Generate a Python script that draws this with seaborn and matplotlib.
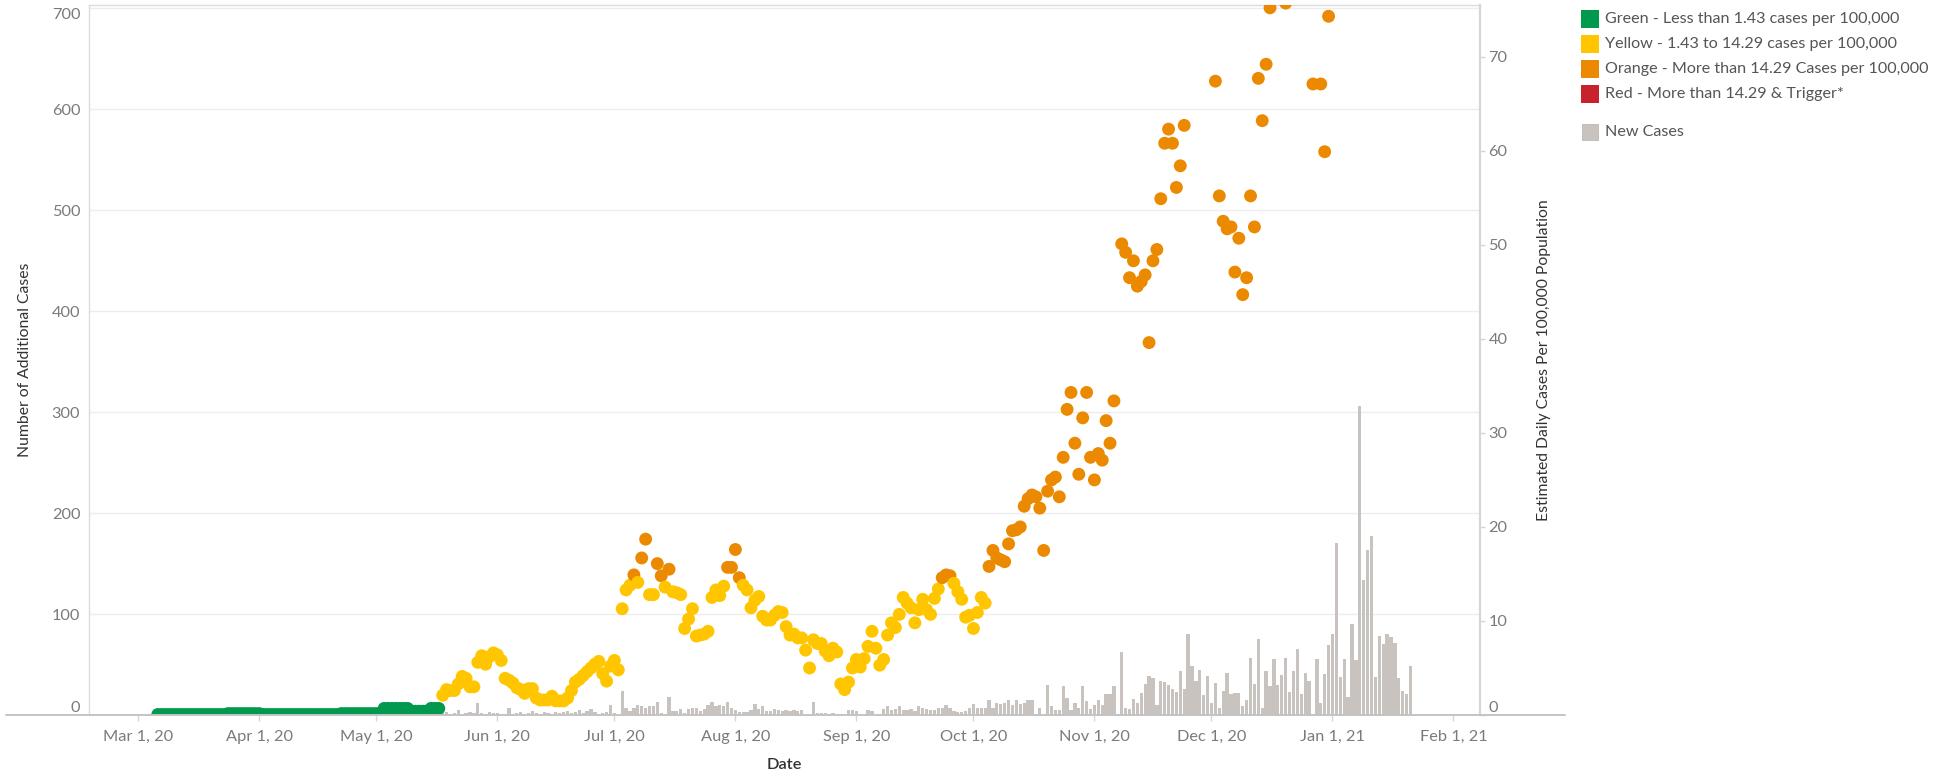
import numpy as np
import pandas as pd
import matplotlib
matplotlib.use("Agg")
import matplotlib.pyplot as plt
import seaborn as sns
from matplotlib.patches import Rectangle
from matplotlib.lines import Line2D

# ---------------- data ----------------
nan = np.nan
dot_start = "2020-03-06"
dot_values = (
    [0.05] * 18 + [0.15] * 9 + [0.05] * 20 + [0.15] * 11 + [0.7] * 7 + [0.4] * 5 + [0.7] * 3 +
    [2.1, 2.7, 2.6, 2.6, 3.3, 4.1, 3.9, 3.0, 3.0, 5.6,
     6.3, 5.4, 6.2, 6.6, 6.4, 5.8, 3.9, 3.7, 3.4, 2.9,
     2.7, 2.3, 2.8, 2.8, 1.8, 1.6, 1.6, 1.6, 2.0, 1.5,
     1.5, 1.5, 1.8, 2.6, 3.5, 3.8, 4.2, 4.6, 5.0, 5.4,
     5.7, 4.4, 3.6, 5.2, 5.8, 4.8, 11.3, 13.3, 13.8, 14.9,
     14.1, 16.7, 18.7, 12.8, 12.8, 16.1, 14.8, 13.6, 15.5, 13.1,
     13.0, 12.8, 9.2, 10.2, 11.3, 8.4, 8.5, 8.6, 8.9, 12.5,
     13.3, 12.7, 13.7, 15.7, 15.7, 17.6, 14.6, 13.8, 13.3, 11.4,
     12.2, 12.6, 10.5, 10.1, 10.1, 10.6, 11.0, 10.9, 9.4, 8.5,
     8.6, 8.2] +
    [8.2, 6.9, 5.0, 8.0, 7.6, 7.6, 6.8, 6.3, 7.1, 6.7,
     3.3, 2.7, 3.5, 5.0, 5.9, 5.1, 6.0, 7.3, 8.9, 7.1,
     5.3, 5.9, 8.5, 9.8, 9.3, 10.7, 12.5, 11.9, 11.4, 9.8,
     11.2, 12.3, 11.2, 10.7, 12.4, 13.4, 14.6, 14.9, 14.8, 14.0,
     13.1, 12.3, 10.4, 10.6, 9.2, 10.9, 12.5, 11.9, 15.8, 17.5,
     16.7, 16.5, 16.3, 18.2, 19.6, 19.7, 20.0, 22.2, 23.0, 23.4,
     23.2, 22.0, 17.5, 23.8, 25.0, 25.3, 23.2, 27.4, 32.5, 34.3,
     28.9, 25.6, 31.6, 34.3, 27.4, 25.0, 27.8, 27.1, 31.3, 28.9,
     33.4, nan, 50.1, 49.2, 46.5, 48.3, 45.6, 46.1, 46.8, 39.6,
     48.3, 49.5, 54.9, 60.8, 62.3, 60.8, 56.1, 58.4, 62.7, nan,
     nan, nan, nan, nan, nan, nan, 67.4, 55.2, 52.5, 51.7,
     51.9, 47.1, 50.7, 44.7, 46.5, 55.2, 51.9, 67.7, 63.2, 69.2,
     75.2, nan, nan, nan, 75.7, nan, nan, nan, nan, nan,
     nan, 67.1, nan, 67.1, 59.9, 74.3]
)

bar_start = "2020-03-06"
bar_values = [
    0, 0, 1, 0, 0, 1, 0, 1, 0, 0, 1, 0, 1, 1, 0, 2, 1, 0, 1, 1,
    2, 1, 0, 1, 2, 1, 1, 0, 2, 1, 1, 2, 0, 1, 1, 2, 1, 0, 1, 2,
    1, 1, 2, 0, 1, 2, 1, 1, 2, 1, 0, 2, 1, 1, 2, 1,
    2, 1, 3, 2, 1, 2, 3, 1, 2, 4, 2, 1, 3, 2, 2, 1, 3,
    2, 3, 1, 2, 5, 1, 2, 3, 2, 12, 2, 1, 3, 2, 2, 1, 1, 7, 1, 2,
    3, 1, 2, 4, 2, 1, 3, 2, 1, 3, 2, 3, 4, 2, 3, 5, 2, 4, 6, 3,
    1, 2, 3,
    10, 2, 0, 24, 7, 4, 7, 10, 9, 7,
    9, 9, 13, 2, 0, 18, 4, 4, 6, 2,
    6, 7, 7, 4, 6, 10, 13, 9, 10, 9,
    13, 7, 5, 3, 3, 3, 5, 11, 6, 9,
    4, 4, 6, 5, 4, 5, 4, 5, 4, 5,
    0, 0, 13, 2, 2, 2, 1, 2, 0, 0,
    0, 5, 5, 4, 0, 0, 5, 4, 0, 0,
    6, 9, 5, 6, 9, 5, 5, 6, 4, 9,
    7, 6, 5, 5, 7, 7, 10, 7, 4, 3,
    3, 4, 7, 11, 7, 7, 7, 15, 7, 12,
    11, 12, 15, 10, 15, 11, 12, 15, 15, 0,
    7, 0, 30, 9, 5,
    5, 29, 17, 5, 12, 7, 29, 14, 6, 10,
    15, 10, 21, 21, 29, 0, 62, 7, 6, 16,
    12, 22, 31, 39, 37, 10, 34, 33, 30, 26,
    23, 44, 26, 80, 49, 34, 45, 20, 39, 12,
    32, 7, 24, 42, 21, 22, 22, 9, 15, 56,
    31, 75, 7, 44, 29, 55, 30, 40, 56, 23,
    44, 65, 21, 42, 34, 0, 55, 12, 41, 69,
    80, 170, 38, 55, 18, 90, 54, 306, 134, 163,
    177, 38, 78, 70, 80, 77, 71, 37, 24, 21,
    49,
]

category_names = ["Green", "Yellow", "Orange", "Red"]
category_labels = [
    "Green - Less than 1.43 cases per 100,000",
    "Yellow - 1.43 to 14.29 cases per 100,000",
    "Orange - More than 14.29 Cases per 100,000",
    "Red - More than 14.29 & Trigger*",
]
category_colors = ["#00994d", "#ffc600", "#eb8a00", "#c8232d"]
thresholds = [1.43, 14.29]
bar_label = "New Cases"
bar_color = "#c9c3c0"

left_ticks = [0, 100, 200, 300, 400, 500, 600, 700]
right_ticks = [0, 10, 20, 30, 40, 50, 60, 70]
x_tick_dates = pd.date_range("2020-03-01", "2021-02-01", freq="MS")

# ---------------- frames ----------------
dots = pd.DataFrame({
    "date": pd.date_range(dot_start, periods=len(dot_values), freq="D"),
    "value": dot_values,
}).dropna()
dots["category"] = pd.cut(dots["value"], [-np.inf] + thresholds + [np.inf],
                          labels=category_names[:3]).astype(str)
bars = pd.DataFrame({
    "date": pd.date_range(bar_start, periods=len(bar_values), freq="D"),
    "cases": bar_values,
})

# ---------------- style ----------------
sns.set_theme(style="white")
plt.rcParams["font.family"] = ["Lato", "DejaVu Sans"]
TICK_C = "#7b7b7b"
TITLE_C = "#333333"
FS = 11.8
LEG_FS = 11.6

W, H = 1944, 776
fig = plt.figure(figsize=(W / 100, H / 100), dpi=100)
x0, x1, ybase, ytop = 89.3, 1480, 715, 5
ax = fig.add_axes([x0 / W, 1 - ybase / H, (x1 - x0) / W, (ybase - ytop) / H])

# bars (left axis)
ax.bar(bars["date"], bars["cases"], width=0.84, color=bar_color, linewidth=0, zorder=2)
ax.set_ylim(0, 703)
mar1 = pd.Timestamp("2020-03-01")
ax.set_xlim(mar1 - pd.Timedelta(days=12.55), mar1 + pd.Timedelta(days=343.8))
ax.set_yticks(left_ticks)
ax.set_yticklabels([str(t) for t in left_ticks])
ax.yaxis.grid(True, color="#ededed", linewidth=1.0)
ax.xaxis.grid(False)
ax.set_axisbelow(True)
ax.tick_params(axis="y", length=0, pad=6.5, labelsize=FS, labelcolor=TICK_C)
for lab, t in zip(ax.get_yticklabels(), left_ticks):
    if t == 0:
        lab.set_va("bottom")
    elif t == 700:
        lab.set_va("top")

ax.set_xticks(x_tick_dates)
ax.set_xticklabels([d.strftime("%b ") + str(d.day) + d.strftime(", %y") for d in x_tick_dates])
ax.tick_params(axis="x", length=4.5, width=1, color="#d6d6d6", pad=6,
               labelsize=FS, labelcolor=TICK_C, bottom=True)

for s in ["left", "top"]:
    ax.spines[s].set_color("#dcdcdc")
    ax.spines[s].set_linewidth(1)
ax.spines["bottom"].set_visible(False)
ax.spines["right"].set_visible(False)

ax.set_xlabel("Date", fontsize=FS, color=TITLE_C, fontweight="semibold")
ax.xaxis.set_label_coords(0.5, (ybase - 765) / (ybase - ytop))
ax.xaxis.label.set_va("center")
ax.set_ylabel("Number of Additional Cases", fontsize=FS - 0.5, color=TITLE_C)
ax.yaxis.set_label_coords((25 - x0) / (x1 - x0), 0.5)
ax.yaxis.label.set_va("center")

# dots (right axis)
ax2 = ax.twinx()
palette = dict(zip(category_names, category_colors))
sns.scatterplot(data=dots, x="date", y="value", hue="category", palette=palette,
                s=86, linewidth=0, alpha=1, ax=ax2, legend=False, zorder=3)
ax2.set_ylim(0, 75.5)
ax2.set_yticks(right_ticks)
ax2.set_yticklabels([str(t) for t in right_ticks])
ax2.tick_params(axis="y", length=3.5, width=1, color="#d6d6d6", pad=2.5,
                labelsize=FS, labelcolor=TICK_C)
for lab, t in zip(ax2.get_yticklabels(), right_ticks):
    if t == 0:
        lab.set_va("bottom")
ax2.set_ylabel("Estimated Daily Cases Per 100,000 Population", fontsize=FS - 0.5, color=TITLE_C)
ax2.yaxis.set_label_coords((1544 - x0) / (x1 - x0), 0.5)
ax2.yaxis.label.set_va("center")
ax2.set_xlabel("")
for s in ["left", "top", "bottom"]:
    ax2.spines[s].set_visible(False)
ax2.spines["right"].set_color("#d6d6d6")
ax2.spines["right"].set_linewidth(1.6)
ax2.grid(False)

# baseline running under both axes (Tableau style)
fig.add_artist(Line2D([6 / W, 1565 / W], [1 - ybase / H, 1 - ybase / H],
                      color="#c4c4c4", linewidth=1.4, zorder=5))

# ---------------- legend ----------------
sw = 18
leg_x = 1581
rows_y = [19, 44, 69, 94]
for yc, lab, col in zip(rows_y, category_labels, category_colors):
    fig.add_artist(Rectangle((leg_x / W, 1 - (yc + sw / 2) / H), sw / W, sw / H,
                             transform=fig.transFigure, color=col, linewidth=0))
    fig.text((leg_x + 24) / W, 1 - yc / H, lab, fontsize=LEG_FS, color="#555555",
             ha="left", va="center")
yc = 132
fig.add_artist(Rectangle(((leg_x + 1) / W, 1 - (yc + 8) / H), 16 / W, 16 / H,
                         transform=fig.transFigure, facecolor=bar_color,
                         edgecolor="#bdb7b4", linewidth=0.6))
fig.text((leg_x + 24) / W, 1 - yc / H, bar_label, fontsize=LEG_FS, color="#555555",
         ha="left", va="center")

fig.savefig("out.png", dpi=100)
